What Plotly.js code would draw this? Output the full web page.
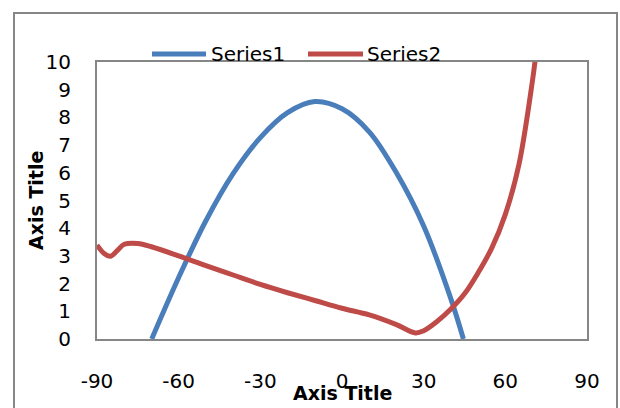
<!DOCTYPE html>
<html>
<head>
<meta charset="utf-8">
<script src="https://cdn.plot.ly/plotly-3.0.1.min.js"></script>
<style>
  html, body { margin: 0; padding: 0; background: #fff; }
  #chart { width: 620px; height: 408px; }
</style>
</head>
<body>
<div id="chart"></div>
<script>
// ---- data ----
const seriesNames = ["Series1", "Series2"];

const series1X = [-69.9, -60, -50, -40, -30, -20, -10, 0, 10, 20, 30, 40, 44.6];
const series1Y = [0, 2.22, 4.27, 5.97, 7.27, 8.17, 8.57, 8.31, 7.48, 6.0, 4.08, 1.45, 0];

const series2X = [-90, -87.5, -85, -82.5, -80, -75, -70, -60, -50, -40, -30, -20, -10, 0, 10, 20, 27, 30, 35, 40, 45, 50, 55, 60, 65, 70, 71];
const series2Y = [3.39, 3.1, 2.99, 3.2, 3.42, 3.45, 3.33, 3.0, 2.65, 2.31, 1.97, 1.67, 1.39, 1.11, 0.87, 0.52, 0.22, 0.3, 0.64, 1.08, 1.63, 2.39, 3.28, 4.5, 6.3, 9.35, 10.1];

const xTickVals = [-90, -60, -30, 0, 30, 60, 90];
const yTickVals = [0, 1, 2, 3, 4, 5, 6, 7, 8, 9, 10];
const xAxisTitle = "Axis Title";
const yAxisTitle = "Axis Title";

// ---- styles ----
const colors = ["#4A7EBB", "#BE4B48"];
const lineWidth = 5;
const font = "DejaVu Sans, sans-serif";

const traces = [
  { x: series1X, y: series1Y, name: seriesNames[0], type: "scatter", mode: "lines",
    line: { color: colors[0], width: lineWidth, shape: "spline", smoothing: 1 } },
  { x: series2X, y: series2Y, name: seriesNames[1], type: "scatter", mode: "lines",
    line: { color: colors[1], width: lineWidth, shape: "spline", smoothing: 1 } }
];

// plot area: x 97..587, y 62..339
const L = 97, R = 587, T = 62, B = 339;
const px = v => (v - L) / (R - L);
const py = v => (B - v) / (B - T);

const legendItems = [
  { x0: 152, x1: 206, tx: 209 },
  { x0: 308, x1: 363, tx: 365 }
];
const shapes = [
  { type: "rect", xref: "paper", yref: "paper",
    x0: px(14), x1: px(617), y0: py(420), y1: py(13),
    line: { color: "#868686", width: 2 }, fillcolor: "rgba(0,0,0,0)", layer: "below" }
];
const annotations = [
  { text: xAxisTitle, xref: "paper", yref: "paper", x: 0.5, y: py(393),
    xanchor: "center", yanchor: "middle", showarrow: false,
    font: { family: font, size: 19, color: "#000", weight: "bold" } },
  { text: yAxisTitle, xref: "paper", yref: "paper", x: px(35.5), y: 0.5,
    xanchor: "center", yanchor: "middle", showarrow: false, textangle: -90,
    font: { family: font, size: 19, color: "#000", weight: "bold" } }
];
legendItems.forEach((it, i) => {
  shapes.push({ type: "line", xref: "paper", yref: "paper",
    x0: px(it.x0), x1: px(it.x1), y0: py(54), y1: py(54),
    line: { color: colors[i], width: lineWidth } });
  annotations.push({ text: seriesNames[i], xref: "paper", yref: "paper",
    x: px(it.tx), y: py(53.5), xanchor: "left", yanchor: "middle", showarrow: false,
    font: { family: font, size: 20, color: "#000" } });
});

const layout = {
  width: 620, height: 408,
  margin: { l: L, r: 620 - R, t: T, b: 408 - B, pad: 0 },
  paper_bgcolor: "#fff", plot_bgcolor: "#fff",
  showlegend: false,
  font: { family: font, size: 20, color: "#000" },
  xaxis: {
    range: [-90, 90], tickvals: xTickVals, ticktext: xTickVals.map(String),
    showgrid: false, zeroline: false, ticks: "",
    showline: true, mirror: true, linecolor: "#868686", linewidth: 2,
    ticklabelstandoff: 23,
    tickfont: { family: font, size: 20, color: "#000" }
  },
  yaxis: {
    range: [0, 10], tickvals: yTickVals, ticktext: yTickVals.map(String),
    showgrid: false, zeroline: false, ticks: "",
    showline: true, mirror: true, linecolor: "#868686", linewidth: 2,
    ticklabelstandoff: 20,
    tickfont: { family: font, size: 20, color: "#000" }
  },
  shapes: shapes,
  annotations: annotations
};

Plotly.newPlot("chart", traces, layout, { displayModeBar: false, staticPlot: true });
</script>
</body>
</html>
